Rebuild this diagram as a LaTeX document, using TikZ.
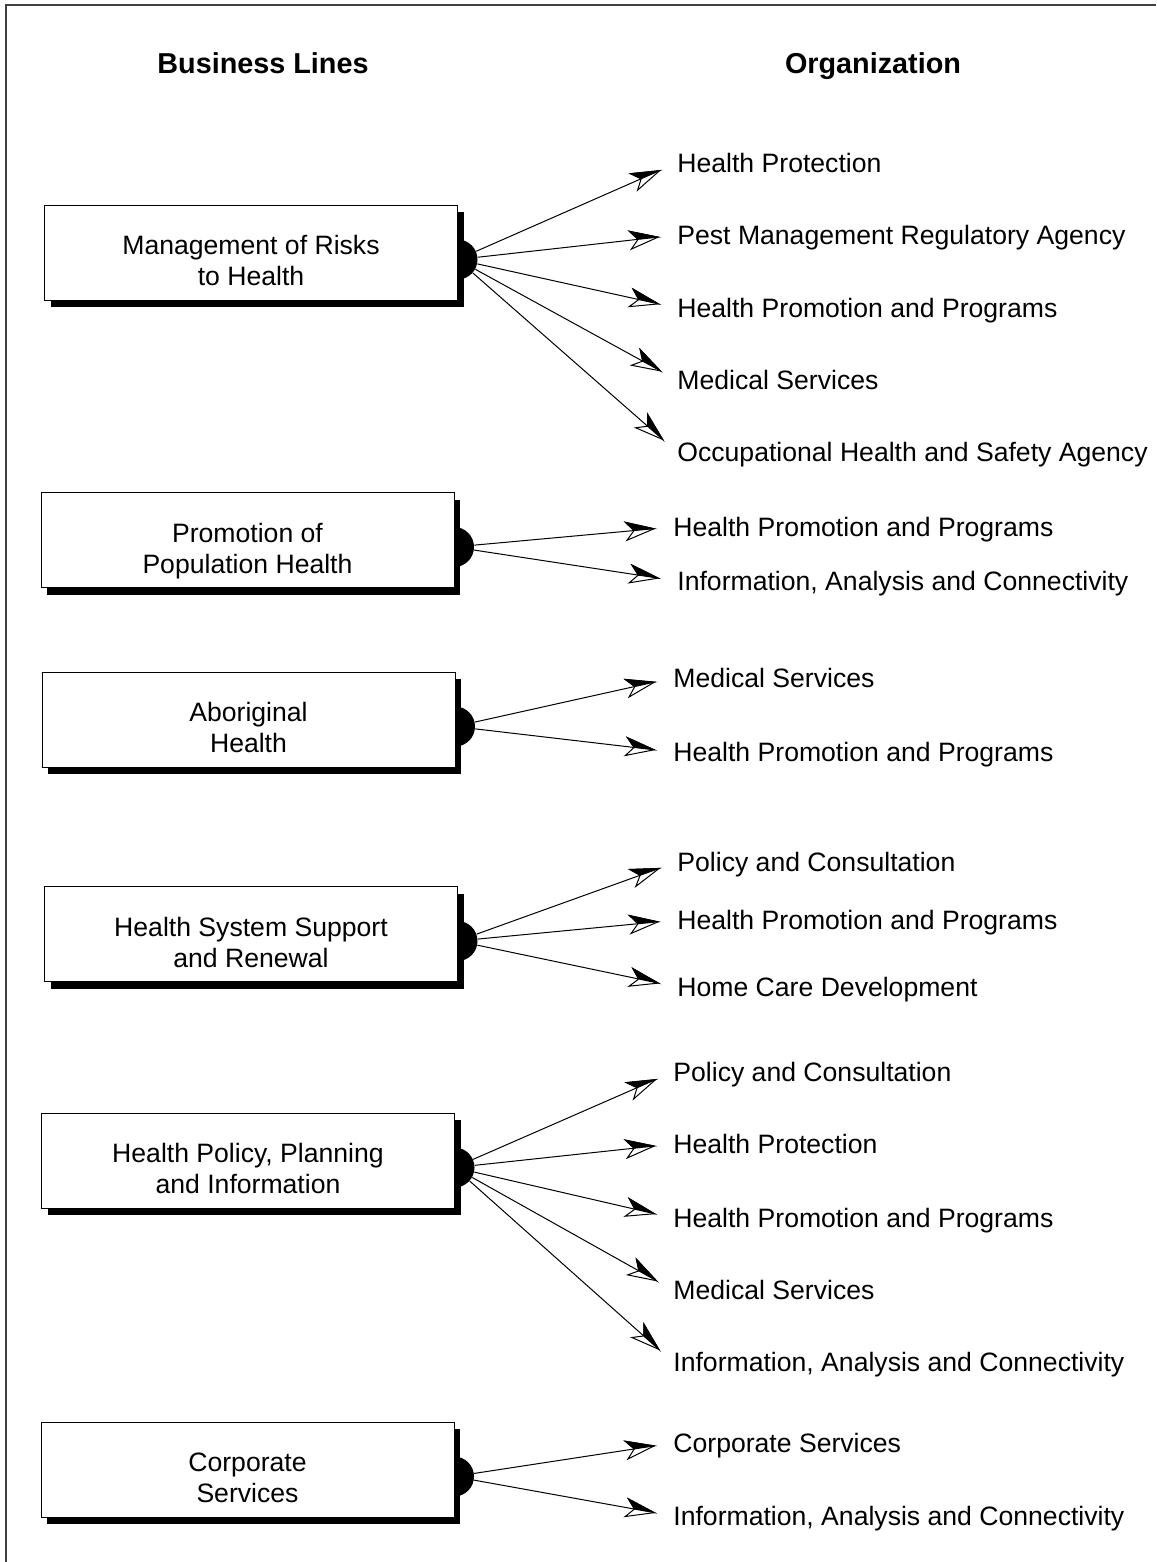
\documentclass[tikz,border=0pt]{standalone}
\usepackage{fontspec}
\setmainfont{Liberation Sans}
\usetikzlibrary{arrows.meta, shadows}

% arrow head: white outline, left half filled black
\pgfdeclarearrow{
  name = halfstealth,
  parameters = {\the\pgfarrowlength,\the\pgfarrowwidth},
  setup code = {
    \pgfarrowssettipend{0pt}
    \pgfarrowssetbackend{-\pgfarrowlength}
    \pgfarrowssetlineend{-0.6\pgfarrowlength}
    \pgfarrowssavethe\pgfarrowlength
    \pgfarrowssavethe\pgfarrowwidth
  },
  drawing code = {
    \pgfsetdash{}{0pt}
    \pgfsetmiterjoin
    \pgfpathmoveto{\pgfpointorigin}
    \pgfpathlineto{\pgfpoint{-\pgfarrowlength}{0.5\pgfarrowwidth}}
    \pgfpathlineto{\pgfpoint{-0.72\pgfarrowlength}{0pt}}
    \pgfpathlineto{\pgfpoint{-\pgfarrowlength}{-0.5\pgfarrowwidth}}
    \pgfpathclose
    \pgfsetfillcolor{white}
    \pgfusepathqfillstroke
    \pgfpathmoveto{\pgfpointorigin}
    \pgfpathlineto{\pgfpoint{-\pgfarrowlength}{0.5\pgfarrowwidth}}
    \pgfpathlineto{\pgfpoint{-0.72\pgfarrowlength}{0pt}}
    \pgfpathclose
    \pgfsetfillcolor{black}
    \pgfusepathqfillstroke
  },
  defaults = {length = 14pt, width = 9pt}
}

\begin{document}
\begin{tikzpicture}[x=0.5pt, y=-0.5pt,
    busline/.style={draw, fill=white, align=center, minimum width=206.5pt, minimum height=47.5pt,
        text height=33pt, text depth=0pt, font=\fontsize{13.3}{15.5}\selectfont,
        drop shadow={shadow xshift=3pt, shadow yshift=-3.5pt, opacity=1, fill=black}},
    hub/.style={circle, fill=black, minimum size=20pt, inner sep=0pt},
    unit/.style={anchor=west, inner sep=0pt, text height=9.5pt, text depth=0pt,
        font=\fontsize{13.3}{15.5}\selectfont},
    head/.style={text height=10.3pt, text depth=0pt, font=\fontsize{14.4}{17}\selectfont\bfseries},
    link/.style={line width=0.5pt, shorten >=9.5pt, -{halfstealth[length=14pt, width=9pt]}}]
    \useasboundingbox (0,0) rectangle (1156,1562);
    \draw[black!75, line width=0.8pt] (6,1562) -- (6,5) -- (1156,5);

    % Headings
    \node[head] (hbl) at (263,63) {Business Lines};
    \node[head] (horg) at (873,63) {Organization};

    % Hubs (drawn first so the boxes cover them)
    \node[hub] (h1) at (457.5,259.5) {};
    \node[hub] (h2) at (454,547) {};
    \node[hub] (h3) at (455,726.5) {};
    \node[hub] (h4) at (457.5,941) {};
    \node[hub] (h5) at (454.5,1167.5) {};
    \node[hub] (h6) at (454,1476.5) {};

    % Business lines
    \node[busline] (b1) at (251,252.5) {Management of Risks\\to Health};
    \node[busline] (b2) at (247.5,540) {Promotion of\\Population Health};
    \node[busline] (b3) at (248.5,719.5) {Aboriginal\\Health};
    \node[busline] (b4) at (251,934) {Health System Support\\and Renewal};
    \node[busline] (b5) at (248,1160.5) {Health Policy, Planning\\and Information};
    \node[busline] (b6) at (247.5,1469.5) {Corporate\\Services};

    % Organization units
    \node[unit] (o11) at (677,163) {Health Protection};
    \node[unit] (o12) at (677,235) {Pest Management Regulatory Agency};
    \node[unit] (o13) at (677,308) {Health Promotion and Programs};
    \node[unit] (o14) at (677,380) {Medical Services};
    \node[unit] (o15) at (677,452) {Occupational Health and Safety Agency};

    \node[unit] (o21) at (673,527) {Health Promotion and Programs};
    \node[unit] (o22) at (677,581) {Information, Analysis and Connectivity};

    \node[unit] (o31) at (673,678) {Medical Services};
    \node[unit] (o32) at (673,752) {Health Promotion and Programs};

    \node[unit] (o41) at (677,862) {Policy and Consultation};
    \node[unit] (o42) at (677,920) {Health Promotion and Programs};
    \node[unit] (o43) at (677,987) {Home Care Development};

    \node[unit] (o51) at (673,1072) {Policy and Consultation};
    \node[unit] (o52) at (673,1144) {Health Protection};
    \node[unit] (o53) at (673,1218) {Health Promotion and Programs};
    \node[unit] (o54) at (673,1290) {Medical Services};
    \node[unit] (o55) at (673,1362) {Information, Analysis and Connectivity};

    \node[unit] (o61) at (673,1443) {Corporate Services};
    \node[unit] (o62) at (673,1516) {Information, Analysis and Connectivity};

    % Links
    \draw[link] (h1) -- (o11.west);
    \draw[link] (h1) -- (o12.west);
    \draw[link] (h1) -- (o13.west);
    \draw[link] (h1) -- (o14.west);
    \draw[link] (h1) -- (o15.west);

    \draw[link] (h2) -- (o21.west);
    \draw[link] (h2) -- (o22.west);

    \draw[link] (h3) -- (o31.west);
    \draw[link] (h3) -- (o32.west);

    \draw[link] (h4) -- (o41.west);
    \draw[link] (h4) -- (o42.west);
    \draw[link] (h4) -- (o43.west);

    \draw[link] (h5) -- (o51.west);
    \draw[link] (h5) -- (o52.west);
    \draw[link] (h5) -- (o53.west);
    \draw[link] (h5) -- (o54.west);
    \draw[link] (h5) -- (o55.west);

    \draw[link] (h6) -- (o61.west);
    \draw[link] (h6) -- (o62.west);
\end{tikzpicture}
\end{document}
